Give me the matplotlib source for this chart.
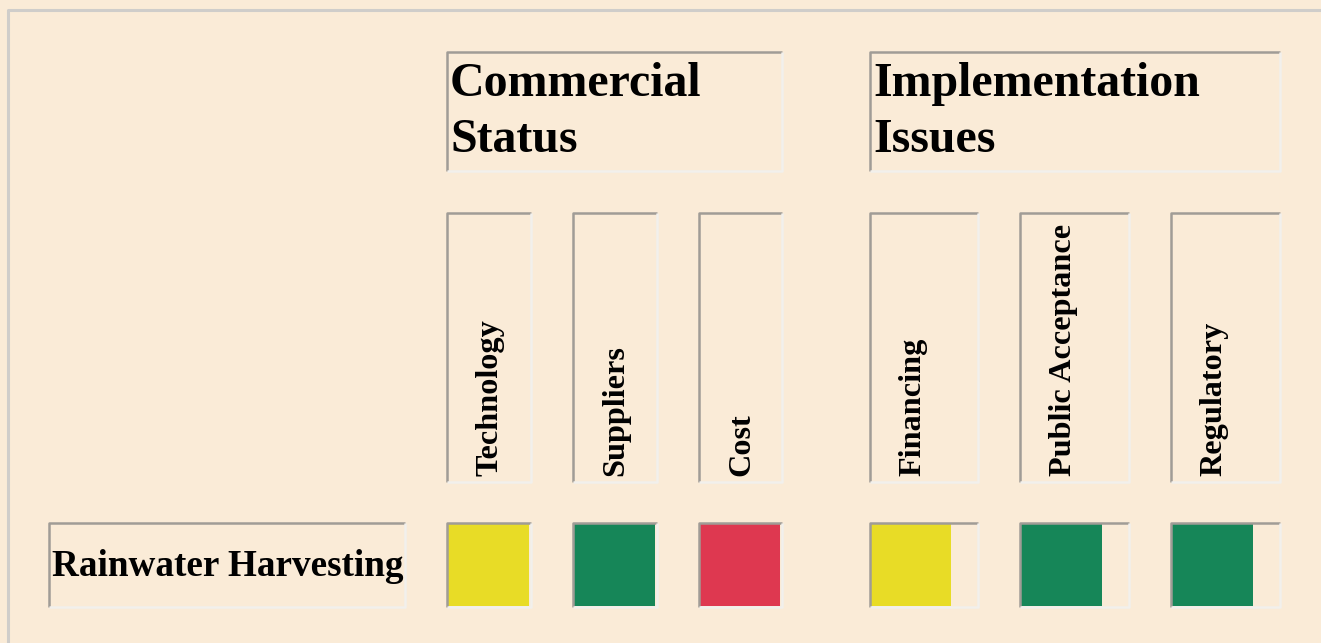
import matplotlib.pyplot as plt
from matplotlib.patches import Rectangle

# ---- data ----
groups = ["Commercial\nStatus", "Implementation\nIssues"]
columns = ["Technology", "Suppliers", "Cost", "Financing", "Public Acceptance", "Regulatory"]
column_group = [0, 0, 0, 1, 1, 1]
row_label = "Rainwater Harvesting"
status = ["yellow", "green", "red", "yellow", "green", "green"]
fill = [1.0, 1.0, 1.0, 0.76, 0.76, 0.76]

palette = {"yellow": "#e8dc26", "green": "#168658", "red": "#de3850"}
BG = "#faebd7"
DARK = "#a09c96"
LIGHT = "#f2f0ec"

# ---- layout (pixel grid of the page) ----
W, H = 1321, 643
col_left = [447, 573, 699, 870, 1020, 1171]
col_right = [531, 657, 782, 978, 1129, 1280]
group_y = (52, 171)
head_y = (213, 482)
row_y = (523, 607)
label_x = (49, 405)

fig = plt.figure(figsize=(W / 100, H / 100), dpi=100, facecolor=BG)
ax = fig.add_axes([0, 0, 1, 1])
ax.set_xlim(0, W)
ax.set_ylim(H, 0)
ax.axis("off")
ax.set_facecolor(BG)

serif = ["Liberation Serif", "DejaVu Serif"]


def inset_box(x0, y0, x1, y1):
    # html-style inset border: dark top/left, light bottom/right
    ax.plot([x0, x0, x1], [y1, y0, y0], color=DARK, lw=1.8, solid_capstyle="butt")
    ax.plot([x0, x1, x1], [y1, y1, y0], color=LIGHT, lw=1.8, solid_capstyle="butt")


# outer table border
ax.plot([8, 8, W + 5], [H + 5, 10, 10], color="#cfcdca", lw=2.2)

# group headers
for gi, g in enumerate(groups):
    idx = [i for i, c in enumerate(column_group) if c == gi]
    x0, x1 = col_left[idx[0]], col_right[idx[-1]]
    inset_box(x0, group_y[0], x1, group_y[1])
    for li, line in enumerate(g.split("\n")):
        ax.text(x0 + 3, 96 + li * 56, line, fontsize=34.5, fontweight="bold",
                family=serif, va="baseline", ha="left", color="black")

# column headers (rotated)
for i, name in enumerate(columns):
    inset_box(col_left[i], head_y[0], col_right[i], head_y[1])
    ax.text(col_left[i] + 43, 476, name, rotation=90, fontsize=23.2, fontweight="bold",
            family=serif, ha="center", va="bottom", color="black")

# row label
inset_box(label_x[0], row_y[0], label_x[1], row_y[1])
ax.text(label_x[0] + 3, (row_y[0] + row_y[1]) / 2 + 1, row_label, fontsize=26.7,
        fontweight="bold", family=serif, ha="left", va="center", color="black")

# status cells
for i, (s, f) in enumerate(zip(status, fill)):
    x0, x1 = col_left[i], col_right[i]
    inset_box(x0, row_y[0], x1, row_y[1])
    inner = (x1 - x0 - 3)
    ax.add_patch(Rectangle((x0 + 1, row_y[0] + 1), inner * f, row_y[1] - row_y[0] - 2,
                           facecolor=palette[s], edgecolor="none"))

fig.savefig("out.png", dpi=100, facecolor=BG)
